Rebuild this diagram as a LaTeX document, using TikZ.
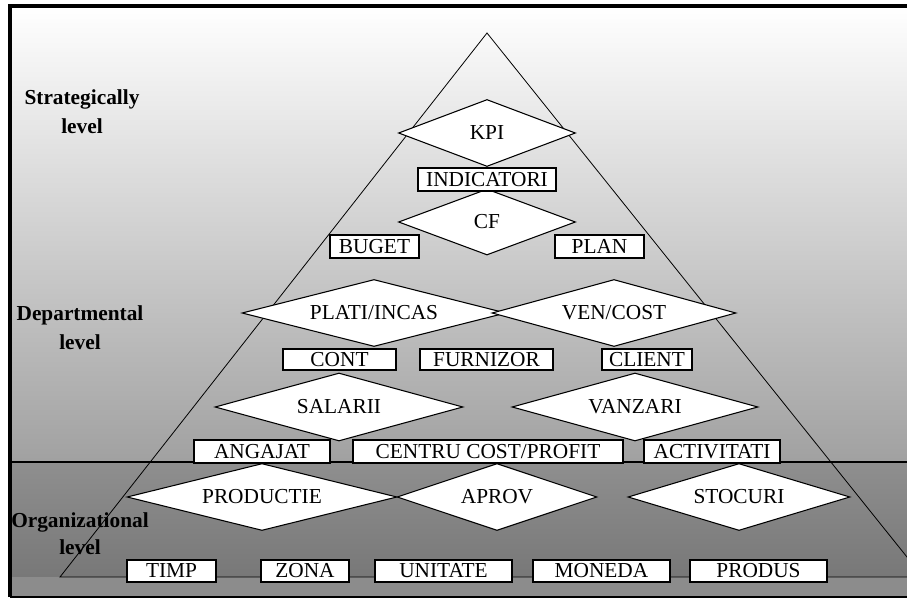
\documentclass[tikz,border=0pt]{standalone}
\usepackage{fontspec}
\setmainfont{Liberation Serif}
\usetikzlibrary{shapes.geometric}

\definecolor{bgmid}{gray}{0.63}
\definecolor{bglowtop}{gray}{0.56}
\definecolor{bglowbot}{gray}{0.47}
\definecolor{bgfoot}{gray}{0.55}

\tikzset{
  rom/.style={shape=diamond, aspect=3, draw, fill=white, line width=0.8pt, inner sep=0pt},
  dim/.style={draw, fill=white, line width=0.8pt, inner sep=0pt, minimum height=16.5pt},
  lvl/.style={align=center, font=\fontsize{16}{22}\selectfont\bfseries},
}

\begin{document}
\begin{tikzpicture}[x=0.75pt,y=-0.75pt,font=\fontsize{16}{18}\selectfont]
    \useasboundingbox (0,0) rectangle (907,599);
    \clip (0,0) rectangle (907,599);

    % background bands
    \shade[top color=white, bottom color=bgmid] (10,6) rectangle (907,462);
    \shade[top color=bglowtop, bottom color=bglowbot] (10,462) rectangle (907,577);
    \fill[bgfoot] (10,577) rectangle (907,597);

    % pyramid
    \def\piramida{(487,33) -- (60,577) -- (923,577) -- cycle}
    \draw[line width=0.6pt] \piramida;
    \draw[line width=1pt] (10,462) -- (907,462);
    \draw[line width=2.4pt] (10,597) -- (10,6) -- (910,6);
    \draw[line width=1.2pt] (10,597) -- (910,597);

    % levels
    \node[lvl] (strat) at (82,112) {Strategically\\level};
    \node[lvl] (dept) at (80,328) {Departmental\\level};
    \node[lvl, font=\fontsize{16}{20}\selectfont\bfseries] (org) at (80,534) {Organizational\\level};

    % diamonds
    \node[rom, minimum width=132.75pt, minimum height=50.25pt] (kpi) at (487,133) {KPI};
    \node[rom, minimum width=132.75pt, minimum height=49.5pt] (cf) at (487,222) {CF};
    \node[rom, minimum width=198pt, minimum height=50.25pt] (plati) at (374,313) {PLATI/INCAS};
    \node[rom, minimum width=183pt, minimum height=50.25pt] (vencost) at (614,313) {VEN/COST};
    \node[rom, minimum width=186pt, minimum height=51pt] (salarii) at (339,407) {SALARII};
    \node[rom, minimum width=184.5pt, minimum height=51pt] (vanzari) at (635,407) {VANZARI};
    \node[rom, minimum width=202.5pt, minimum height=50.25pt] (productie) at (262,497) {PRODUCTIE};
    \node[rom, minimum width=150pt, minimum height=50.25pt] (aprov) at (497,497) {APROV};
    \node[rom, minimum width=166.5pt, minimum height=50.25pt] (stocuri) at (739,497) {STOCURI};

    % dimensions
    \node[dim, minimum width=103.5pt, minimum height=17.25pt] (indicatori) at (487,179.5) {INDICATORI};
    \node[dim, minimum width=66.75pt, minimum height=17.25pt] (buget) at (374.5,246.5) {BUGET};
    \node[dim, minimum width=66.75pt, minimum height=17.25pt] (plan) at (599.5,246.5) {PLAN};
    \node[dim, minimum width=84.75pt, minimum height=15.75pt] (cont) at (339.5,359.5) {CONT};
    \node[dim, minimum width=99.75pt, minimum height=15.75pt] (furnizor) at (486.5,359.5) {FURNIZOR};
    \node[dim, minimum width=67.5pt, minimum height=15.75pt] (client) at (647,359.5) {CLIENT};
    \node[dim, minimum width=102pt, minimum height=17.25pt] (angajat) at (262,451.5) {ANGAJAT};
    \node[dim, minimum width=202.5pt, minimum height=17.25pt] (centru) at (488,451.5) {CENTRU COST/PROFIT};
    \node[dim, minimum width=102pt, minimum height=17.25pt] (activitati) at (712,451.5) {ACTIVITATI};
    \node[dim, minimum width=66.75pt] (timp) at (171.5,571) {TIMP};
    \node[dim, minimum width=66pt] (zona) at (305,571) {ZONA};
    \node[dim, minimum width=102.75pt] (unitate) at (443.5,571) {UNITATE};
    \node[dim, minimum width=102.75pt] (moneda) at (601.5,571) {MONEDA};
    \node[dim, minimum width=102.75pt] (produs) at (758.5,571) {PRODUS};
\end{tikzpicture}
\end{document}
